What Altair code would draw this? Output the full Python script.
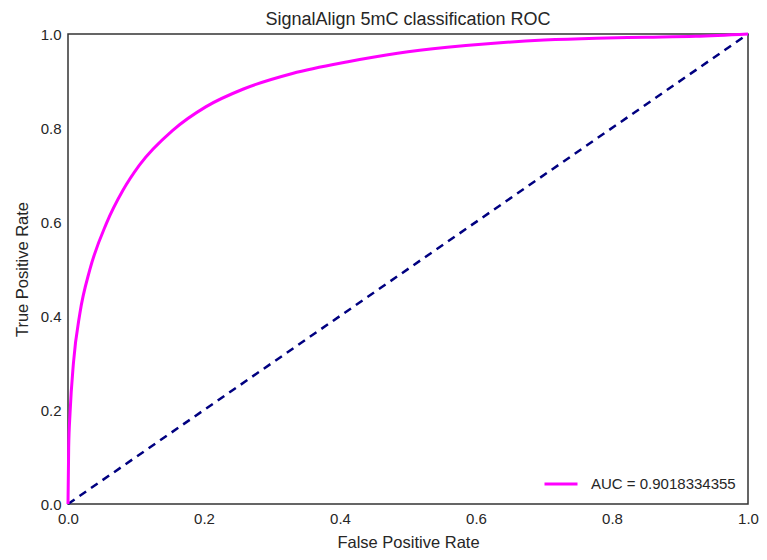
import altair as alt
import pandas as pd

fpr = [0.0, 0.001, 0.003, 0.008, 0.0175, 0.032, 0.0565, 0.081, 0.105, 0.154,
       0.2025, 0.258, 0.33, 0.4117, 0.4847, 0.5577, 0.631, 0.70, 0.777, 0.85, 0.923, 1.0]
tpr = [0.0, 0.12, 0.193, 0.30, 0.406, 0.498, 0.597, 0.668, 0.721, 0.795,
       0.845, 0.883, 0.916, 0.941, 0.959, 0.9717, 0.981, 0.987, 0.991, 0.993, 0.995, 1.0]
auc_label = "AUC = 0.9018334355"
diag_x = [0.0, 1.0]
diag_y = [0.0, 1.0]
ticks = [0.0, 0.2, 0.4, 0.6, 0.8, 1.0]

roc = pd.DataFrame({"fpr": fpr, "tpr": tpr, "label": auc_label})
diag = pd.DataFrame({"fpr": diag_x, "tpr": diag_y})

xs = alt.Scale(domain=[0, 1], nice=False)
ys = alt.Scale(domain=[0, 1], nice=False)

x_axis = alt.Axis(title="False Positive Rate", values=ticks, format=".1f", labelFlush=False)
y_axis = alt.Axis(title="True Positive Rate", values=ticks, format=".1f", labelFlush=False)

roc_line = alt.Chart(roc).mark_line(strokeWidth=3, interpolate="monotone").encode(
    x=alt.X("fpr:Q", scale=xs, axis=x_axis),
    y=alt.Y("tpr:Q", scale=ys, axis=y_axis),
    color=alt.Color("label:N", scale=alt.Scale(domain=[auc_label], range=["#ff00ff"]),
                    legend=alt.Legend(title=None, orient="bottom-right", symbolType="stroke",
                                      symbolStrokeWidth=3, symbolSize=1089, labelFontSize=15,
                                      labelFont="Liberation Sans", labelColor="#262626",
                                      offset=12, padding=0, labelOffset=12)),
)

diag_line = alt.Chart(diag).mark_line(strokeWidth=2.5, strokeDash=[8, 6], color="#000080").encode(
    x=alt.X("fpr:Q", scale=xs),
    y=alt.Y("tpr:Q", scale=ys),
)

chart = alt.layer(diag_line, roc_line).properties(
    width=680, height=470,
    title=alt.TitleParams("SignalAlign 5mC classification ROC", fontSize=18, fontWeight="normal",
                          font="Liberation Sans", color="#262626", offset=-2),
    autosize=alt.AutoSizeParams(type="none"),
    padding={"left": 60, "top": 26, "right": 11, "bottom": 48},
).configure_view(
    stroke="#333333", strokeWidth=1.5
).configure_axis(
    domain=False, ticks=False, grid=False,
    labelFont="Liberation Sans", labelFontSize=15, labelColor="#262626", labelPadding=7,
    titleFont="Liberation Sans", titleFontSize=16.5, titleFontWeight="normal", titleColor="#262626",
).configure_axisX(titlePadding=8).configure_axisY(titlePadding=10)

chart.save("out.html", embed_options={"renderer": "svg", "actions": False})
